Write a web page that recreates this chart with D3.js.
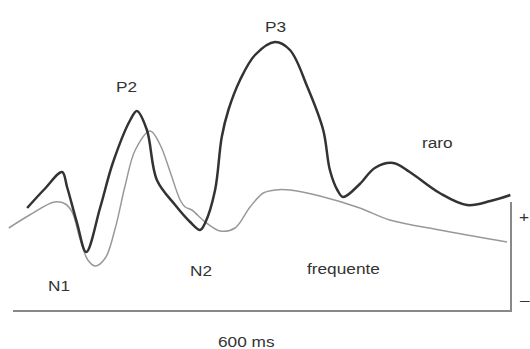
<!DOCTYPE html>
<html>
<head>
<meta charset="utf-8">
<script src="https://cdn.jsdelivr.net/npm/d3@7"></script>
<style>
  body { margin: 0; background: #fff; }
  text { font-family: "Liberation Sans", Arial, sans-serif; fill: #333; }
</style>
</head>
<body>
<script>
// ERP waveforms, time in ms, amplitude in arbitrary uV
var rareTime = [17, 38, 59, 65, 77, 88, 105, 120, 141, 149, 161, 173, 195, 213, 225, 231, 243, 251, 259, 273, 291, 315, 333, 354, 373, 381, 390, 397, 417, 435, 457, 477, 513, 546, 574, 598];
var rareAmp  = [2.2, 4.1, 5.8, 4.3, 0.7, -2.2, 2.3, 6.7, 11.0, 11.9, 10.0, 5.0, 2.5, 0.8, 0.0, 0.7, 4.0, 9.3, 12.0, 15.0, 17.5, 18.8, 18.0, 14.3, 10.0, 6.0, 4.0, 3.3, 4.6, 6.2, 6.7, 5.8, 3.7, 2.5, 2.9, 3.5];

var freqTime = [-5, 20, 50, 63, 71, 81, 90, 99, 111, 123, 135, 147, 165, 177, 189, 201, 207, 215, 231, 249, 267, 285, 301, 315, 333, 369, 417, 453, 513, 594];
var freqAmp  = [0.2, 1.5, 2.8, 2.6, 1.8, -1.0, -3.0, -3.6, -2.8, 0.2, 4.5, 8.0, 9.9, 8.5, 5.8, 3.0, 2.3, 2.0, 0.8, -0.1, 0.2, 2.3, 3.7, 4.0, 4.0, 3.4, 2.2, 1.0, 0.0, -1.2];

var timeBar = [0, 600];      // horizontal calibration, 600 ms
var ampBar  = [-8.1, 2.8];   // vertical calibration bar

var width = 530, height = 349;

var x = d3.scaleLinear().domain([0, 600]).range([13, 512]);
var y = d3.scaleLinear().domain([-8, 19]).range([310, 40]);

var svg = d3.select('body').append('svg')
	.attr('width', width)
	.attr('height', height);

var line = d3.line()
	.x(function(d) { return x(d[0]); })
	.y(function(d) { return y(d[1]); })
	.curve(d3.curveCatmullRom.alpha(0.5));

var freq = freqTime.map(function(t, i) { return [t, freqAmp[i]]; });
var rare = rareTime.map(function(t, i) { return [t, rareAmp[i]]; });

// calibration bars
svg.append('line')
	.attr('x1', x(timeBar[0])).attr('x2', x(timeBar[1]))
	.attr('y1', y(ampBar[0])).attr('y2', y(ampBar[0]))
	.attr('stroke', '#888').attr('stroke-width', 2);

svg.append('line')
	.attr('x1', x(timeBar[1]) - 1).attr('x2', x(timeBar[1]) - 1)
	.attr('y1', y(ampBar[0]) + 1).attr('y2', y(ampBar[1]))
	.attr('stroke', '#888').attr('stroke-width', 2);

svg.append('path')
	.attr('d', line(freq))
	.attr('fill', 'none')
	.attr('stroke', '#999')
	.attr('stroke-width', 1.5);

svg.append('path')
	.attr('d', line(rare))
	.attr('fill', 'none')
	.attr('stroke', '#333')
	.attr('stroke-width', 2.5)
	.attr('stroke-linejoin', 'round');

// labels
var labels = [
	{t: 'P2', x: 116, y: 92},
	{t: 'P3', x: 265, y: 32},
	{t: 'raro', x: 422, y: 148},
	{t: 'N1', x: 48, y: 291},
	{t: 'N2', x: 190, y: 276},
	{t: 'frequente', x: 307, y: 274},
	{t: '600 ms', x: 218, y: 347},
	{t: '+', x: 519, y: 222},
	{t: '\u2013', x: 520, y: 305}
];

svg.selectAll('text.lab')
	.data(labels)
	.enter().append('text')
		.attr('class', 'lab')
		.attr('transform', function(d) { return 'translate(' + d.x + ',' + d.y + ') scale(1.15,1)'; })
		.style('font-size', '15px')
		.text(function(d) { return d.t; });
</script>
</body>
</html>
